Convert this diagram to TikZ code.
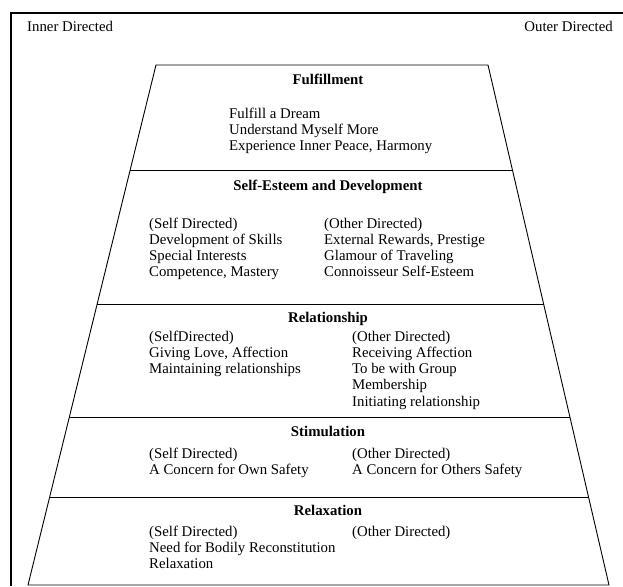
\documentclass[tikz,border=0pt]{standalone}
\usepackage{fontspec}
\setmainfont{Liberation Serif}
\usetikzlibrary{positioning}

\begin{document}
\begin{tikzpicture}[
    x=1pt, y=-1pt,
    every node/.style={inner sep=0pt, font=\fontsize{14.8}{16.3}\selectfont},
    level/.style={font=\fontsize{14.8}{16.3}\selectfont\bfseries, anchor=base},
    group/.style={align=left, anchor=base west}, % placed at the baseline of its last line
    edge/.style={line width=0.9pt},
]
\useasboundingbox (0,0) rectangle (623,586);
% frame and the two directions
\draw[line width=1.1pt] (11,586) -- (11,13) -- (623,13);
\node[anchor=base west] (inner) at (27,32) {Inner Directed};
\node[anchor=base east] (outer) at (613,32) {Outer Directed};
% pyramid outline and the layer borders
\draw[edge] (28,585) -- (156,65) -- (488,65) -- (609,585) -- cycle;
\foreach \yy/\xl/\xr in {170/130.2/512.5, 304/97.2/543.7, 417/69.4/570, 497/49.7/588.7}
  \draw[edge] (\xl,\yy) -- (\xr,\yy);

% Fulfillment
\node[level] (fulfil) at (328,84) {Fulfillment};
\node[group] (fulfil-items) at (229,150.6) {Fulfill a Dream\\Understand Myself More\\Experience Inner Peace, Harmony};
% Self-Esteem and Development
\node[level] (esteem) at (328,190) {Self-Esteem and Development};
\node[group] (esteem-self) at (149,276.9) {(Self Directed)\\Development of Skills\\Special Interests\\Competence, Mastery};
\node[group] (esteem-other) at (324,276.9) {(Other Directed)\\External Rewards, Prestige\\Glamour of Traveling\\Connoisseur Self-Esteem};
% Relationship
\node[level] (relation) at (328,322) {Relationship};
\node[group] (relation-self) at (149,373.6) {(SelfDirected)\\Giving Love, Affection\\Maintaining relationships};
\node[group] (relation-other) at (352,406.2) {(Other Directed)\\Receiving Affection\\To be with Group\\Membership\\Initiating relationship};
% Stimulation
\node[level] (stimul) at (328,436) {Stimulation};
\node[group] (stimul-self) at (149,474.3) {(Self Directed)\\A Concern for Own Safety};
\node[group] (stimul-other) at (352,474.3) {(Other Directed)\\A Concern for Others Safety};
% Relaxation
\node[level] (relax) at (328,515) {Relaxation};
\node[group] (relax-self) at (149,568.6) {(Self Directed)\\Need for Bodily Reconstitution\\Relaxation};
\node[group] (relax-other) at (352,536) {(Other Directed)};
\end{tikzpicture}
\end{document}
